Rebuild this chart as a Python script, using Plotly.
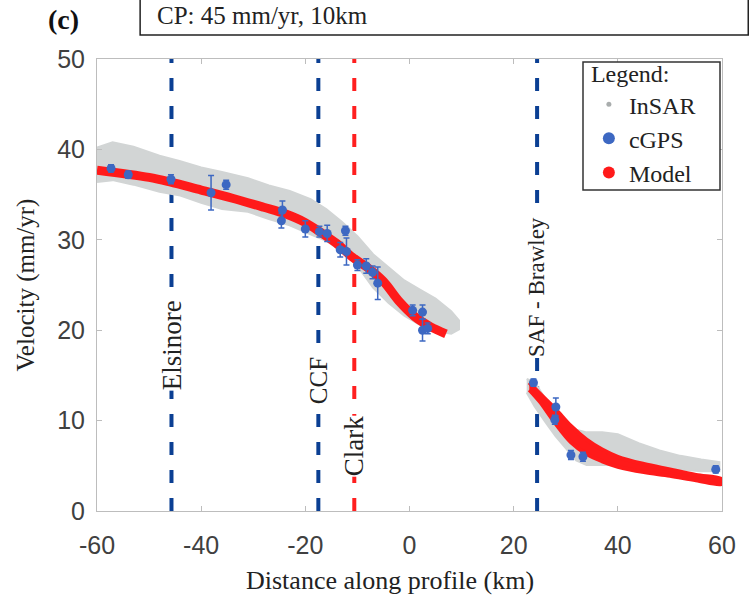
import plotly.graph_objects as go

# ---- fault positions along profile (km) ----
fault_names = ["Elsinore", "CCF", "Clark", "SAF - Brawley"]
fault_x = [-45.7, -17.5, -10.6, 24.5]
fault_label_y = [18.4, 14.4, 7.2, 24.8]
fault_label_size = [27, 25, 27, 23]
fault_colors = ["#0b3f93", "#0b3f93", "#ff1f1f", "#0b3f93"]

# ---- InSAR scatter envelope (mm/yr), west segment ----
insar_w_x = [-60, -57, -53, -48, -44, -40, -36, -31, -27, -23, -19, -16, -13, -10, -7, -4, -1, 2, 5, 8, 9.5]
insar_w_hi = [40.2, 40.8, 40.3, 39.3, 38.7, 38.0, 37.5, 36.8, 36.0, 35.4, 34.5, 33.4, 32.0, 30.4, 28.4, 27.0, 25.5, 24.5, 23.5, 22.1, 21.1]
insar_w_lo = [36.4, 36.6, 36.1, 35.3, 34.9, 34.1, 33.4, 33.1, 32.3, 31.6, 30.6, 29.9, 28.7, 27.1, 24.7, 23.0, 21.6, 20.6, 19.9, 19.6, 20.1]

# ---- InSAR scatter envelope (mm/yr), east segment ----
insar_e_x = [22.5, 24, 26, 28, 30, 32, 34, 37, 40, 44, 48, 52, 56, 59.5]
insar_e_hi = [14.6, 14.3, 12.5, 11.0, 9.8, 9.0, 8.7, 8.7, 8.5, 7.5, 6.7, 6.1, 5.7, 5.4]
insar_e_lo = [13.1, 11.6, 9.9, 8.3, 6.9, 5.6, 5.1, 5.1, 5.1, 4.9, 4.8, 4.6, 4.4, 4.4]

# ---- cGPS velocities ----
gps_x = [-57.3, -54.0, -45.8, -38.1, -35.2, -24.4, -24.6, -20.0, -17.3, -15.8, -12.3, -13.3, -12.1, -10.0,
         -8.3, -7.1, -6.1, 0.6, 2.5, 2.5, 3.5, 23.8, 28.1, 27.9, 31.0, 33.3, 58.8]
gps_y = [37.9, 37.2, 36.7, 35.2, 36.1, 33.3, 32.1, 31.2, 30.9, 30.7, 31.0, 28.9, 28.7, 27.2,
         27.1, 26.4, 25.2, 22.2, 22.0, 20.0, 20.2, 14.2, 11.5, 10.1, 6.2, 6.0, 4.6]
gps_err = [0.4, 0.4, 0.5, 1.9, 0.5, 1.0, 0.8, 0.9, 0.6, 0.9, 0.5, 0.8, 1.5, 0.6,
           0.8, 0.7, 1.8, 0.6, 0.8, 1.2, 0.6, 0.4, 1.0, 0.5, 0.5, 0.5, 0.4]

# ---- model curves ----
model_w_x = [-60, -50, -46, -40, -34, -28, -24, -20, -17, -14, -11, -8, -5, -2, 1, 4, 7]
model_w_y = [37.7, 36.9, 36.4, 35.5, 34.6, 33.6, 32.9, 31.9, 30.8, 29.6, 28.1, 26.9, 25.4, 23.2, 21.5, 20.4, 19.6]
model_e_x = [23, 25, 28, 31, 34, 37, 40, 45, 50, 55, 60]
model_e_hi = [14.2, 13.0, 11.3, 9.4, 7.9, 6.8, 6.0, 5.2, 4.6, 4.0, 3.5]
model_e_lo = [13.4, 12.1, 9.7, 7.6, 6.3, 5.5, 4.9, 4.3, 3.9, 3.4, 3.0]

x_ticks = [-60, -40, -20, 0, 20, 40, 60]
x_tick_text = ["-60", "-40", "-20", "0", "20", "40", "60"]
y_ticks = [0, 10, 20, 30, 40, 50]

INSAR = "#d2d5d5"
GPS = "#3d68c2"
MODEL = "#ff1a1a"
SERIF = "Liberation Serif"
SANS = "Liberation Sans"

fig = go.Figure()

# fault traces
for fx, fc in zip(fault_x, fault_colors):
    fig.add_trace(go.Scatter(x=[fx, fx], y=[0, 50], mode="lines",
                             line=dict(color=fc, width=4, dash="13px,15px"),
                             showlegend=False, hoverinfo="skip"))

# InSAR clouds
for xs, hi, lo in [(insar_w_x, insar_w_hi, insar_w_lo), (insar_e_x, insar_e_hi, insar_e_lo)]:
    fig.add_trace(go.Scatter(x=xs + xs[::-1], y=hi + lo[::-1], mode="lines", fill="toself",
                             fillcolor=INSAR, line=dict(color=INSAR, width=2),
                             showlegend=False, hoverinfo="skip"))

# model, west
fig.add_trace(go.Scatter(x=model_w_x, y=model_w_y, mode="lines",
                         line=dict(color=MODEL, width=9, shape="spline"),
                         showlegend=False))
# model, east (family of curves drawn as a band)
fig.add_trace(go.Scatter(x=model_e_x + model_e_x[::-1], y=model_e_hi + model_e_lo[::-1],
                         mode="lines", fill="toself", fillcolor=MODEL,
                         line=dict(color=MODEL, width=4, shape="spline"),
                         showlegend=False))

# cGPS with error bars
fig.add_trace(go.Scatter(x=gps_x, y=gps_y, mode="markers",
                         marker=dict(color=GPS, size=9),
                         error_y=dict(type="data", array=gps_err, color=GPS, thickness=1.5, width=3),
                         showlegend=False))

# legend entries
fig.add_trace(go.Scatter(x=[None], y=[None], mode="markers", name="InSAR",
                         marker=dict(color="#a9adad", size=5)))
fig.add_trace(go.Scatter(x=[None], y=[None], mode="markers", name="cGPS",
                         marker=dict(color=GPS, size=12)))
fig.add_trace(go.Scatter(x=[None], y=[None], mode="markers", name="Model",
                         marker=dict(color=MODEL, size=12)))

# fault labels
for name, fx, ly, fs in zip(fault_names, fault_x, fault_label_y, fault_label_size):
    fig.add_annotation(x=fx, y=ly, text=name, textangle=-90, showarrow=False,
                       bgcolor="white", borderpad=0,
                       font=dict(family=SERIF, size=fs, color="#222222"))

# panel letter and parameter box
fig.add_annotation(xref="paper", yref="paper", x=-0.082, y=1.088, text="<b>(c)</b>",
                   showarrow=False, xanchor="left", yanchor="middle",
                   font=dict(family=SERIF, size=28, color="#111111"))
fig.add_shape(type="rect", xref="paper", yref="paper",
              x0=0.069, x1=1.042, y0=1.053, y1=1.2,
              line=dict(color="#222222", width=1.5), fillcolor="white")
fig.add_annotation(xref="paper", yref="paper", x=0.093, y=1.097, text="CP: 45 mm/yr, 10km",
                   showarrow=False, xanchor="left", yanchor="middle",
                   font=dict(family=SERIF, size=25, color="#222222"))

# x-axis caption
fig.add_annotation(xref="paper", yref="paper", x=0.469, y=-0.153, text="Distance along profile (km)",
                   showarrow=False, xanchor="center", yanchor="middle",
                   font=dict(family=SERIF, size=26, color="#222222"))

# legend frame
fig.add_shape(type="rect", xref="paper", yref="paper",
              x0=0.7776, x1=0.9968, y0=0.710, y1=0.9934,
              line=dict(color="#333333", width=1.5), fillcolor="white", layer="above")

axis_common = dict(showline=True, linecolor="#bdbdbd", linewidth=1, mirror="ticks",
                   ticks="inside", ticklen=5, tickcolor="#bdbdbd", showgrid=False,
                   zeroline=False, tickfont=dict(family=SANS, size=25, color="#404040"))

fig.update_xaxes(range=[-60, 60], tickvals=x_ticks, ticktext=x_tick_text, ticklabelstandoff=12,
                 **axis_common)
fig.update_yaxes(range=[0, 50], tickvals=y_ticks, ticklabelstandoff=6,
                 title=dict(text="Velocity (mm/yr)", standoff=15,
                            font=dict(family=SERIF, size=25, color="#222222")),
                 **axis_common)

fig.update_layout(
    width=755, height=606,
    margin=dict(l=97, r=33, t=59, b=95),
    plot_bgcolor="white", paper_bgcolor="white",
    showlegend=True,
    legend=dict(x=0.787, y=1.018, xanchor="left", yanchor="top",
                title=dict(text="Legend:", font=dict(family=SERIF, size=24, color="#222222")),
                font=dict(family=SERIF, size=24, color="#222222"),
                bgcolor="rgba(0,0,0,0)", borderwidth=0,
                itemwidth=30, tracegroupgap=0),
)

fig.write_html("out.html")
